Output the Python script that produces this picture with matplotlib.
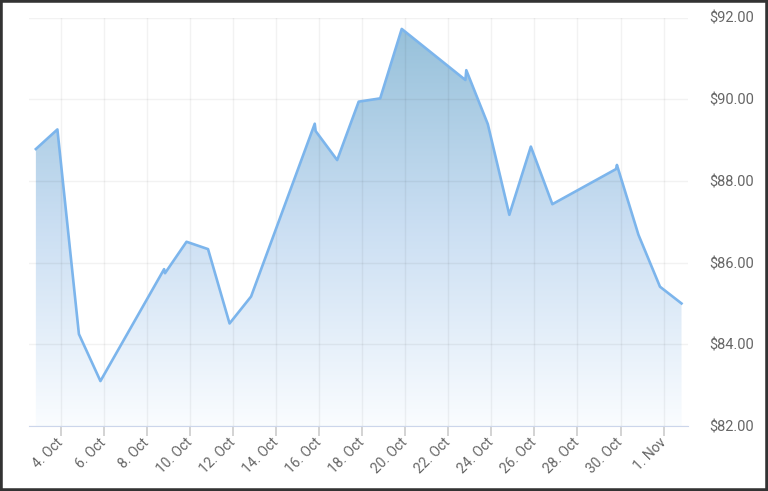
import matplotlib.pyplot as plt
import matplotlib.dates as mdates
import numpy as np
import pandas as pd
from matplotlib.patches import Rectangle

plt.rcParams['font.family'] = ['Roboto', 'DejaVu Sans']

# closing quotes, Oct 2 - Nov 1 2018 (Mondays carry two quotes)
dates = ["2018-10-02 20:00", "2018-10-03 20:00", "2018-10-04 20:00", "2018-10-05 20:00",
         "2018-10-08 19:00", "2018-10-08 20:00", "2018-10-09 20:00", "2018-10-10 20:00",
         "2018-10-11 20:00", "2018-10-12 20:00",
         "2018-10-15 19:00", "2018-10-15 20:00", "2018-10-16 20:00", "2018-10-17 20:00",
         "2018-10-18 20:00", "2018-10-19 20:00",
         "2018-10-22 19:00", "2018-10-22 20:00", "2018-10-23 20:00", "2018-10-24 20:00",
         "2018-10-25 20:00", "2018-10-26 20:00",
         "2018-10-29 19:00", "2018-10-29 20:00", "2018-10-30 20:00", "2018-10-31 20:00",
         "2018-11-01 20:00"]
prices = [88.78, 89.26, 84.25, 83.10,
          85.84, 85.74, 86.51, 86.33,
          84.51, 85.17,
          89.40, 89.22, 88.51, 89.94,
          90.02, 91.72,
          90.47, 90.71, 89.39, 87.17,
          88.84, 87.43,
          88.29, 88.39, 86.68, 85.41,
          85.00]
tick_dates = pd.date_range("2018-10-04", "2018-11-01", freq="2D")
y_ticks = [82, 84, 86, 88, 90, 92]

x = mdates.date2num(pd.to_datetime(dates))
xmin = mdates.date2num(pd.Timestamp("2018-10-02 12:20"))
xmax = mdates.date2num(pd.Timestamp("2018-11-02 03:15"))
ymin, ymax = 82, 92

fig = plt.figure(figsize=(7.68, 4.91), dpi=100)
ax = fig.add_axes([29/768, 1 - 426/491, (688 - 29)/768, (426 - 17.5)/491])

# gradient area under the line (top -> bottom)
t = np.linspace(0, 1, 256)
stops = [0.0, 0.5, 1.0]
cols = np.array([[0.58, 0.75, 0.85], [0.79, 0.87, 0.95], [0.98, 0.99, 1.0]])
grad = np.stack([np.interp(t, stops, cols[:, i]) for i in range(3)], axis=-1)[:, None, :]

poly = ax.fill_between(x, prices, ymin, color='none', lw=0)
im = ax.imshow(grad, extent=[xmin, xmax, ymin, ymax], aspect='auto',
               origin='upper', zorder=1)
im.set_clip_path(poly.get_paths()[0], transform=ax.transData)

ax.plot(x, prices, color='#7cb5ec', lw=1.9, zorder=3, solid_joinstyle='round')

ax.set_xlim(xmin, xmax)
ax.set_ylim(ymin, ymax)

ax.grid(True, color='black', alpha=0.05, lw=1, zorder=2)
for s in ['top', 'left', 'right']:
    ax.spines[s].set_visible(False)
ax.spines['bottom'].set_color('#ccd6eb')

ax.set_xticks(mdates.date2num(tick_dates))
ax.set_xticklabels([f"{d.day}. {d.strftime('%b')}" for d in tick_dates])
ax.tick_params(axis='x', length=7.5, width=1.1, color='#c8c8c8',
               labelsize=10, labelcolor='#666666', pad=3)
for lab in ax.get_xticklabels():
    lab.set_rotation(45)
    lab.set_ha('right')
    lab.set_va('center')
    lab.set_rotation_mode('anchor')

ax.yaxis.tick_right()
ax.set_yticks(y_ticks)
ax.yaxis.set_major_formatter(lambda v, p: f"${v:.2f}")
ax.tick_params(axis='y', length=0, pad=15.5, labelsize=10.5, labelcolor='#666666')

fig.patches.append(Rectangle((0, 0), 1, 1, transform=fig.transFigure, fill=False,
                             ec='#333333', lw=4))

plt.savefig("out.png", dpi=100)
